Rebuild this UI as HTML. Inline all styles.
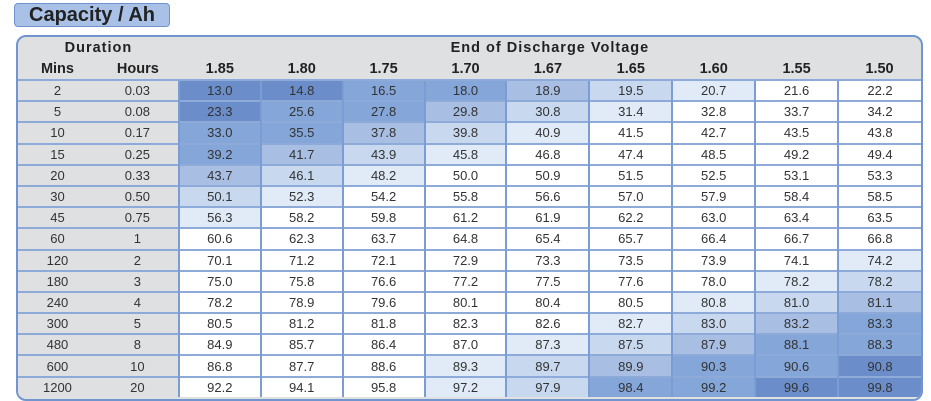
<!DOCTYPE html>
<html><head><meta charset="utf-8"><style>
body{margin:0;width:931px;height:401px;background:#fff;font-family:"Liberation Sans",sans-serif;position:relative;overflow:hidden}
.title{position:absolute;left:14px;top:3px;width:154px;height:22px;background:#a9c1e6;border:1px solid #6f93cc;border-radius:4px;font-weight:bold;font-size:20px;line-height:22px;text-align:center;color:#222}
.box{position:absolute;left:16px;top:35px;width:903px;height:362px;border:2px solid #7196cf;border-radius:10px;overflow:hidden;background:#dfe0e2}
table{position:absolute;left:0;top:0;border-collapse:collapse;table-layout:fixed;font-size:13px;color:#333}
td{height:19.2px;line-height:19px;padding:0;text-align:center;border-top:2px solid #8eaad8;border-left:2px solid #7c9dd3;white-space:nowrap;letter-spacing:0}
td.m,td.h{border-left:none;background:#dfe0e2}
th{font-weight:bold;font-size:14.5px;color:#222;padding:0;white-space:nowrap}
tr.h1 th{height:20px;line-height:22px;letter-spacing:1px}
tr.h2 th{height:20px;line-height:18px}
.a{background:#6b8ecb}.b{background:#84a6d9}.c{background:#a8bee3}.d{background:#c7d8ef}.e{background:#e0ebf7}.w{background:#fff}
</style></head><body>
<div class="title">Capacity / Ah</div>
<div class="box"><table>
<colgroup><col style="width:79px"><col style="width:82px"><col style="width:82px"><col style="width:82px"><col style="width:82px"><col style="width:82px"><col style="width:83px"><col style="width:83px"><col style="width:83px"><col style="width:83px"><col style="width:83px"></colgroup>
<tr class="h1"><th colspan="2">Duration</th><th colspan="9">End of Discharge Voltage</th></tr>
<tr class="h2"><th>Mins</th><th>Hours</th><th>1.85</th><th>1.80</th><th>1.75</th><th>1.70</th><th>1.67</th><th>1.65</th><th>1.60</th><th>1.55</th><th>1.50</th></tr>
<tr><td class="m">2</td><td class="h">0.03</td><td class="a">13.0</td><td class="a">14.8</td><td class="b">16.5</td><td class="b">18.0</td><td class="c">18.9</td><td class="d">19.5</td><td class="e">20.7</td><td class="w">21.6</td><td class="w">22.2</td></tr>
<tr><td class="m">5</td><td class="h">0.08</td><td class="a">23.3</td><td class="b">25.6</td><td class="b">27.8</td><td class="c">29.8</td><td class="d">30.8</td><td class="e">31.4</td><td class="w">32.8</td><td class="w">33.7</td><td class="w">34.2</td></tr>
<tr><td class="m">10</td><td class="h">0.17</td><td class="b">33.0</td><td class="b">35.5</td><td class="c">37.8</td><td class="d">39.8</td><td class="e">40.9</td><td class="w">41.5</td><td class="w">42.7</td><td class="w">43.5</td><td class="w">43.8</td></tr>
<tr><td class="m">15</td><td class="h">0.25</td><td class="b">39.2</td><td class="c">41.7</td><td class="d">43.9</td><td class="e">45.8</td><td class="w">46.8</td><td class="w">47.4</td><td class="w">48.5</td><td class="w">49.2</td><td class="w">49.4</td></tr>
<tr><td class="m">20</td><td class="h">0.33</td><td class="c">43.7</td><td class="d">46.1</td><td class="e">48.2</td><td class="w">50.0</td><td class="w">50.9</td><td class="w">51.5</td><td class="w">52.5</td><td class="w">53.1</td><td class="w">53.3</td></tr>
<tr><td class="m">30</td><td class="h">0.50</td><td class="d">50.1</td><td class="e">52.3</td><td class="w">54.2</td><td class="w">55.8</td><td class="w">56.6</td><td class="w">57.0</td><td class="w">57.9</td><td class="w">58.4</td><td class="w">58.5</td></tr>
<tr><td class="m">45</td><td class="h">0.75</td><td class="e">56.3</td><td class="w">58.2</td><td class="w">59.8</td><td class="w">61.2</td><td class="w">61.9</td><td class="w">62.2</td><td class="w">63.0</td><td class="w">63.4</td><td class="w">63.5</td></tr>
<tr><td class="m">60</td><td class="h">1</td><td class="w">60.6</td><td class="w">62.3</td><td class="w">63.7</td><td class="w">64.8</td><td class="w">65.4</td><td class="w">65.7</td><td class="w">66.4</td><td class="w">66.7</td><td class="w">66.8</td></tr>
<tr><td class="m">120</td><td class="h">2</td><td class="w">70.1</td><td class="w">71.2</td><td class="w">72.1</td><td class="w">72.9</td><td class="w">73.3</td><td class="w">73.5</td><td class="w">73.9</td><td class="w">74.1</td><td class="e">74.2</td></tr>
<tr><td class="m">180</td><td class="h">3</td><td class="w">75.0</td><td class="w">75.8</td><td class="w">76.6</td><td class="w">77.2</td><td class="w">77.5</td><td class="w">77.6</td><td class="w">78.0</td><td class="e">78.2</td><td class="d">78.2</td></tr>
<tr><td class="m">240</td><td class="h">4</td><td class="w">78.2</td><td class="w">78.9</td><td class="w">79.6</td><td class="w">80.1</td><td class="w">80.4</td><td class="w">80.5</td><td class="e">80.8</td><td class="d">81.0</td><td class="c">81.1</td></tr>
<tr><td class="m">300</td><td class="h">5</td><td class="w">80.5</td><td class="w">81.2</td><td class="w">81.8</td><td class="w">82.3</td><td class="w">82.6</td><td class="e">82.7</td><td class="d">83.0</td><td class="c">83.2</td><td class="b">83.3</td></tr>
<tr><td class="m">480</td><td class="h">8</td><td class="w">84.9</td><td class="w">85.7</td><td class="w">86.4</td><td class="w">87.0</td><td class="e">87.3</td><td class="d">87.5</td><td class="c">87.9</td><td class="b">88.1</td><td class="b">88.3</td></tr>
<tr><td class="m">600</td><td class="h">10</td><td class="w">86.8</td><td class="w">87.7</td><td class="w">88.6</td><td class="e">89.3</td><td class="d">89.7</td><td class="c">89.9</td><td class="b">90.3</td><td class="b">90.6</td><td class="a">90.8</td></tr>
<tr><td class="m">1200</td><td class="h">20</td><td class="w">92.2</td><td class="w">94.1</td><td class="w">95.8</td><td class="e">97.2</td><td class="d">97.9</td><td class="b">98.4</td><td class="b">99.2</td><td class="a">99.6</td><td class="a">99.8</td></tr>
</table></div>
</body></html>
